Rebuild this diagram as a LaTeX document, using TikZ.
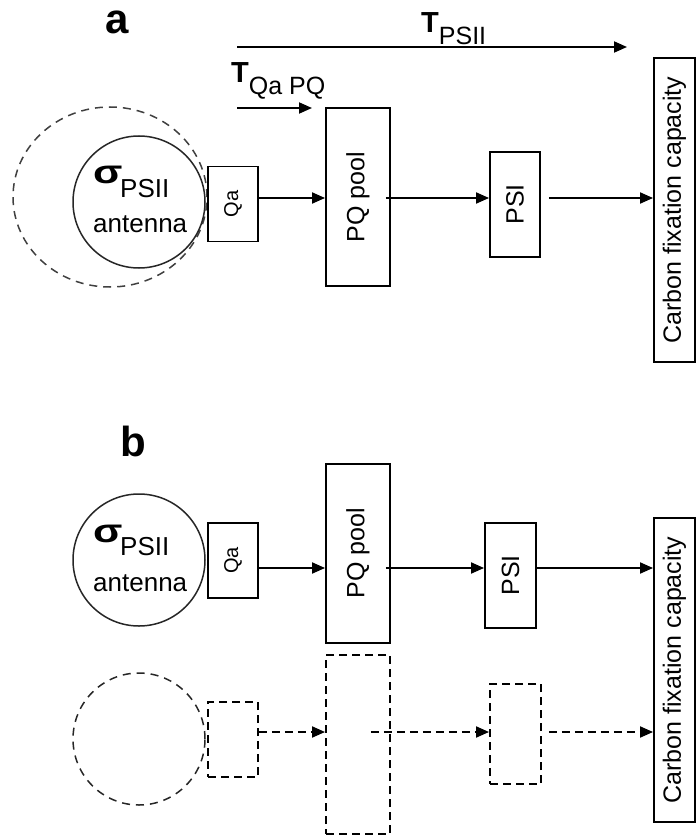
\documentclass[tikz,border=0pt]{standalone}
\usepackage{fontspec}
\setmainfont{Liberation Sans}
\usetikzlibrary{arrows.meta,calc,shapes.geometric}

\begin{document}
\begin{tikzpicture}[x=1pt,y=-1pt,
  blk/.style={draw,line width=1.9pt,inner sep=0pt,font=\fontsize{25}{28}\selectfont},
  ghost/.style={draw,line width=1.9pt,inner sep=0pt,dash pattern=on 8pt off 5pt},
  ring/.style={draw=black!85,circle,line width=1.5pt,inner sep=0pt,minimum size=132pt},
  ghostring/.style={ring,dash pattern=on 8pt off 6pt},
  flow/.style={line width=1.9pt,-{Triangle[length=13pt,width=11pt]}},
  ghostflow/.style={flow,dash pattern=on 8pt off 5pt},
  panel/.style={font=\fontsize{42}{42}\selectfont\bfseries},
  txt/.style={inner sep=0pt,anchor=base west,font=\fontsize{26}{28}\selectfont},
  sig/.style={inner sep=0pt,anchor=base west,font=\fontsize{33}{33}\selectfont\bfseries},
  tlabel/.style={inner sep=0pt,anchor=base west,font=\fontsize{25}{28}\selectfont},
]
\useasboundingbox (0,0) rectangle (696,837);

% ---------------- panel a ----------------
\node[panel] (la) at (117,22) {a};

% overall time constant arrow
\coordinate (tpS) at (237,47);
\coordinate (tpE) at (627,47);
\draw[flow] (tpS) -- (tpE);
\node[tlabel] (tpl) at (421,33) {{\fontsize{29}{29}\selectfont\bfseries T}\raisebox{-12pt}{PSII}};

% Qa -> PQ time constant arrow
\coordinate (tqS) at (237,108);
\coordinate (tqE) at (312,108);
\draw[flow] (tqS) -- (tqE);
\node[tlabel] (tql) at (231,83) {{\fontsize{29}{29}\selectfont\bfseries T}\raisebox{-12pt}{Qa PQ}};

% enlarged antenna (dashed) behind the antenna
\node[draw=black!75,ellipse,line width=1.5pt,dash pattern=on 8pt off 6pt,
      minimum width=194pt,minimum height=180pt,inner sep=0pt] (halo) at (110,197) {};
\node[ring,fill=white] (ca) at (139,202) {};
\node[sig] (sa) at ([shift={(-46,-19)}]ca.center) {\scalebox{1.3}[1]{σ}};
\node[txt] (pa) at ([shift={(-19,-5)}]ca.center) {PSII};
\node[txt] (aa) at ([shift={(-46,30)}]ca.center) {antenna};

\node[blk,minimum width=50pt,minimum height=75pt,font=\fontsize{20}{22}\selectfont] (qaa) at (233,204) {\rotatebox{90}{Qa}};
\node[blk,minimum width=64pt,minimum height=178pt] (pqa) at (358,197) {\rotatebox{90}{PQ pool}};
\node[blk,minimum width=50pt,minimum height=105pt] (psia) at (515,204.5) {\rotatebox{90}{PSI}};
\node[blk,minimum width=41pt,minimum height=304pt] (cfa) at (674.5,210) {\rotatebox{90}{Carbon fixation capacity}};

\coordinate (rowA) at (0,198);
\draw[flow] (qaa.east |- rowA) -- (pqa.west |- rowA);
\draw[flow] ($(pqa.east |- rowA)+(-5,0)$) -- (psia.west |- rowA);
\draw[flow] ($(psia.east |- rowA)+(8,0)$) -- (cfa.west |- rowA);

% ---------------- panel b ----------------
\node[panel] (lb) at (133,441) {b};

\node[ring] (cb) at (139,560) {};
\node[sig] (sb) at ([shift={(-46,-18)}]cb.center) {\scalebox{1.3}[1]{σ}};
\node[txt] (pb) at ([shift={(-19,-5)}]cb.center) {PSII};
\node[txt] (ab) at ([shift={(-46,31)}]cb.center) {antenna};

\node[blk,minimum width=50pt,minimum height=75pt,font=\fontsize{20}{22}\selectfont] (qab) at (233,560.5) {\rotatebox{90}{Qa}};
\node[blk,minimum width=64pt,minimum height=179pt] (pqb) at (358,553.5) {\rotatebox{90}{PQ pool}};
\node[blk,minimum width=51pt,minimum height=105pt] (psib) at (510.5,575.5) {\rotatebox{90}{PSI}};
\node[blk,minimum width=41pt,minimum height=304pt] (cfb) at (674.5,670) {\rotatebox{90}{Carbon fixation capacity}};

\coordinate (rowB) at (0,568);
\draw[flow] (qab.east |- rowB) -- (pqb.west |- rowB);
\draw[flow] ($(pqb.east |- rowB)+(-5,0)$) -- (psib.west |- rowB);
\draw[flow] (psib.east |- rowB) -- (cfb.west |- rowB);

% second, empty chain (dashed)
\node[ghostring] (cg) at (139,739) {};
\node[ghost,minimum width=50pt,minimum height=75pt] (qag) at (233,739.5) {};
\node[ghost,minimum width=64pt,minimum height=179pt] (pqg) at (358,744.5) {};
\node[ghost,minimum width=51pt,minimum height=100pt] (psig) at (515.5,734) {};

\coordinate (rowC) at (0,732);
\draw[ghostflow] (qag.east |- rowC) -- (pqg.west |- rowC);
\draw[ghostflow] ($(pqg.east |- rowC)+(-20,0)$) -- (psig.west |- rowC);
\draw[ghostflow] ($(psig.east |- rowC)+(7,0)$) -- (cfb.west |- rowC);
\end{tikzpicture}
\end{document}
